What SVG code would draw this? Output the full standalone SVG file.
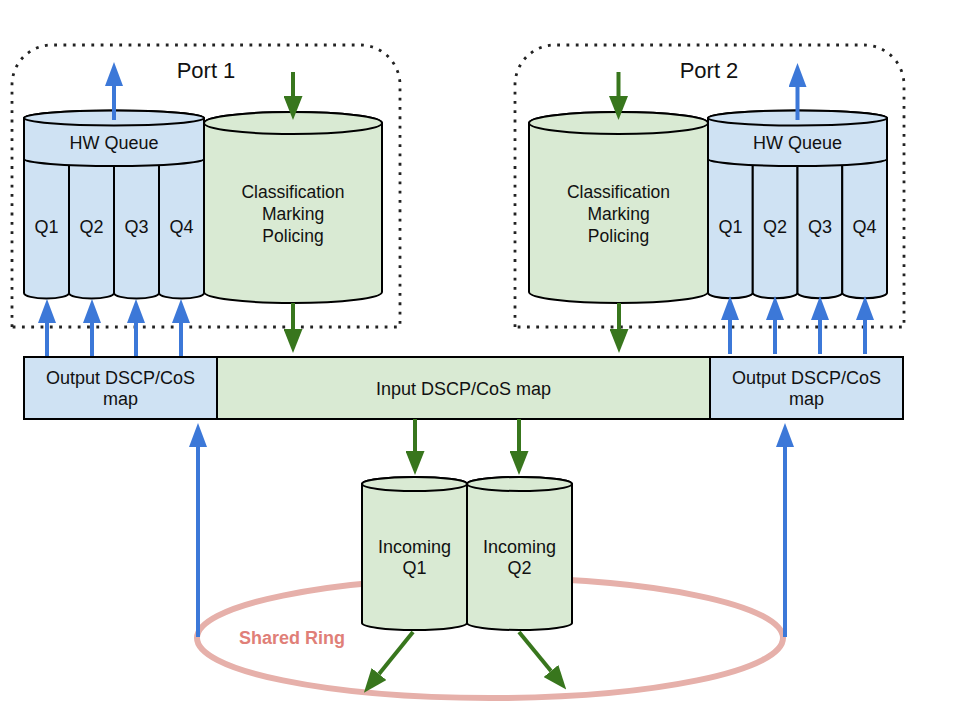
<svg xmlns="http://www.w3.org/2000/svg" width="960" height="720" viewBox="0 0 960 720">
<defs>
<style>
text{font-family:"Liberation Sans",Arial,sans-serif;fill:#111;text-anchor:middle}
.t18{font-size:18px}
.t17{font-size:17.5px}
.port{font-size:22px}
.ring-label{font-size:18px;font-weight:bold;fill:#e07f78}
.blue{fill:#cfe2f3;stroke:#000;stroke-width:2}
.green{fill:#d9ead3;stroke:#000;stroke-width:2}
.dotted{fill:none;stroke:#222;stroke-width:2.8;stroke-dasharray:2.8 6.5}
.ab{stroke:#3c78d8;stroke-width:4;fill:none;marker-end:url(#mb)}
.ag{stroke:#38761d;stroke-width:4;fill:none;marker-end:url(#mg)}
</style>
<marker id="mb" markerUnits="userSpaceOnUse" markerWidth="24" markerHeight="18" viewBox="0 0 24 18" refX="0" refY="9" orient="auto"><path d="M0,0 L24,9 L0,18 Z" fill="#3c78d8"/></marker>
<marker id="mg" markerUnits="userSpaceOnUse" markerWidth="24" markerHeight="19" viewBox="0 0 24 19" refX="0" refY="9.5" orient="auto"><path d="M0,0 L24,9.5 L0,19 Z" fill="#38761d"/></marker>
</defs>
<rect width="960" height="720" fill="#fff"/>

<g id="shared-ring">
<ellipse cx="490" cy="638" rx="293" ry="60" fill="none" stroke="#e6b0aa" stroke-width="6"/>
<text class="ring-label" x="292" y="644">Shared Ring</text>
</g>

<g id="port1">
<path class="dotted" d="M12,327 L12,85 A40,40 0 0 1 52,45 L360,45 A40,40 0 0 1 400,85 L400,327 Z"/>
<text class="port" x="206" y="78">Port 1</text>
</g>
<g id="port2">
<path class="dotted" d="M515,327 L515,85 A40,40 0 0 1 555,45 L864,45 A40,40 0 0 1 904,85 L904,327 Z"/>
<text class="port" x="709" y="78">Port 2</text>
</g>

<g id="p1-queues">
<path class="blue" d="M24,150 L24,293 A22.5,5.5 0 0 0 69,293 L69,150 Z"/>
<path class="blue" d="M69,150 L69,293 A22.5,5.5 0 0 0 114,293 L114,150 Z"/>
<path class="blue" d="M114,150 L114,293 A22.5,5.5 0 0 0 159,293 L159,150 Z"/>
<path class="blue" d="M159,150 L159,293 A22.5,5.5 0 0 0 204,293 L204,150 Z"/>
<text class="t18" x="46.5" y="233">Q1</text>
<text class="t18" x="91.5" y="233">Q2</text>
<text class="t18" x="136.5" y="233">Q3</text>
<text class="t18" x="181.5" y="233">Q4</text>
</g>
<g id="p1-hwqueue">
<path class="blue" d="M24,118 L24,159 A90,7 0 0 0 204,159 L204,118 A90,7.5 0 0 0 24,118 Z"/>
<ellipse class="blue" cx="114" cy="118" rx="90" ry="7.5"/>
<text class="t18" x="114" y="149">HW Queue</text>
</g>
<g id="p1-classification">
<path class="green" d="M204,123 L204,292 A89,11 0 0 0 382,292 L382,123 A89,11 0 0 0 204,123 Z"/>
<ellipse class="green" cx="293" cy="123" rx="89" ry="11"/>
<text class="t17" x="293" y="198">Classification</text>
<text class="t17" x="293" y="220">Marking</text>
<text class="t17" x="293" y="242">Policing</text>
</g>

<g id="p2-classification">
<path class="green" d="M529,123 L529,292 A89.5,11 0 0 0 708,292 L708,123 A89.5,11 0 0 0 529,123 Z"/>
<ellipse class="green" cx="618.5" cy="123" rx="89.5" ry="11"/>
<text class="t17" x="618.5" y="198">Classification</text>
<text class="t17" x="618.5" y="220">Marking</text>
<text class="t17" x="618.5" y="242">Policing</text>
</g>
<g id="p2-queues">
<path class="blue" d="M708,150 L708,293 A22.4,5.5 0 0 0 752.75,293 L752.75,150 Z"/>
<path class="blue" d="M752.75,150 L752.75,293 A22.4,5.5 0 0 0 797.5,293 L797.5,150 Z"/>
<path class="blue" d="M797.5,150 L797.5,293 A22.4,5.5 0 0 0 842.25,293 L842.25,150 Z"/>
<path class="blue" d="M842.25,150 L842.25,293 A22.4,5.5 0 0 0 887,293 L887,150 Z"/>
<text class="t18" x="730.4" y="233">Q1</text>
<text class="t18" x="775.1" y="233">Q2</text>
<text class="t18" x="819.9" y="233">Q3</text>
<text class="t18" x="864.6" y="233">Q4</text>
</g>
<g id="p2-hwqueue">
<path class="blue" d="M708,118 L708,159 A89.5,7 0 0 0 887,159 L887,118 A89.5,7.5 0 0 0 708,118 Z"/>
<ellipse class="blue" cx="797.5" cy="118" rx="89.5" ry="7.5"/>
<text class="t18" x="797.5" y="149">HW Queue</text>
</g>

<g id="map-bar">
<rect class="blue" x="24" y="357" width="193" height="62"/>
<rect class="green" x="217" y="357" width="493" height="62"/>
<rect class="blue" x="710" y="357" width="193" height="62"/>
<text class="t18" x="120.5" y="384">Output DSCP/CoS</text>
<text class="t18" x="120.5" y="405">map</text>
<text class="t18" x="463.5" y="395">Input DSCP/CoS map</text>
<text class="t18" x="806.5" y="384">Output DSCP/CoS</text>
<text class="t18" x="806.5" y="405">map</text>
</g>

<g id="incoming-q1">
<path class="green" d="M362,484 L362,623 A52.5,7 0 0 0 467,623 L467,484 A52.5,7 0 0 0 362,484 Z"/>
<ellipse class="green" cx="414.5" cy="484" rx="52.5" ry="7"/>
<text class="t18" x="414.5" y="553">Incoming</text>
<text class="t18" x="414.5" y="574">Q1</text>
</g>
<g id="incoming-q2">
<path class="green" d="M467,484 L467,623 A52.5,7 0 0 0 572,623 L572,484 A52.5,7 0 0 0 467,484 Z"/>
<ellipse class="green" cx="519.5" cy="484" rx="52.5" ry="7"/>
<text class="t18" x="519.5" y="553">Incoming</text>
<text class="t18" x="519.5" y="574">Q2</text>
</g>

<g id="connectors">
<line class="ab" x1="114" y1="120" x2="114" y2="86"/>
<line class="ab" x1="797.5" y1="120" x2="797.5" y2="87"/>
<line class="ag" x1="293" y1="72" x2="293" y2="96"/>
<line class="ag" x1="618.5" y1="72" x2="618.5" y2="96"/>
<line class="ab" x1="47" y1="356" x2="47" y2="323"/>
<line class="ab" x1="92" y1="356" x2="92" y2="323"/>
<line class="ab" x1="136" y1="356" x2="136" y2="323"/>
<line class="ab" x1="181" y1="356" x2="181" y2="323"/>
<line class="ab" x1="730" y1="354" x2="730" y2="320"/>
<line class="ab" x1="775" y1="354" x2="775" y2="320"/>
<line class="ab" x1="820" y1="354" x2="820" y2="320"/>
<line class="ab" x1="865" y1="354" x2="865" y2="320"/>
<line class="ag" x1="293" y1="303" x2="293" y2="329"/>
<line class="ag" x1="619" y1="303" x2="619" y2="329"/>
<line class="ag" x1="415" y1="419" x2="415" y2="451"/>
<line class="ag" x1="519" y1="419" x2="519" y2="451"/>
<line class="ab" x1="198" y1="637" x2="198" y2="447"/>
<line class="ab" x1="785" y1="637" x2="785" y2="447"/>
<line class="ag" x1="413" y1="632" x2="379" y2="674"/>
<line class="ag" x1="519" y1="632" x2="551" y2="671"/>
</g>
</svg>
